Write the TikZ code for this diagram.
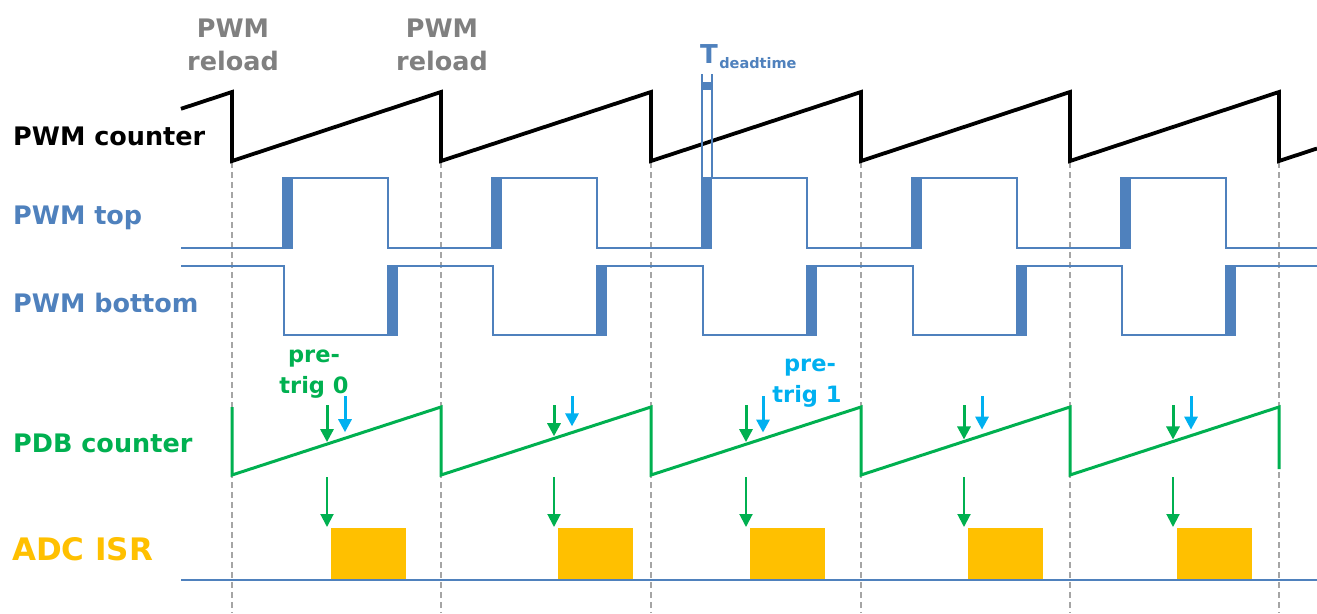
\documentclass[tikz,border=0pt]{standalone}
\usepackage{fontspec}
\setmainfont{DejaVu Sans}
\usetikzlibrary{arrows.meta}

\definecolor{pwmblue}{RGB}{79,129,189}
\definecolor{pdbgreen}{RGB}{0,176,80}
\definecolor{trigcyan}{RGB}{0,176,240}
\definecolor{isrorange}{RGB}{255,192,0}
\definecolor{reloadgray}{RGB}{128,128,128}
\definecolor{gridgray}{RGB}{165,165,165}

\tikzset{
  siglabel/.style={anchor=base west, inner sep=0pt, font=\fontsize{25.5}{30}\selectfont\bfseries},
  reloadlabel/.style={anchor=base, inner sep=0pt, text=reloadgray, font=\fontsize{25.5}{30}\selectfont\bfseries},
  triglabel/.style={anchor=base, inner sep=0pt, font=\fontsize{22.5}{26}\selectfont\bfseries},
  gridline/.style={gridgray, line width=1.3pt, dash pattern=on 6pt off 4pt},
  counterline/.style={black, line width=3.8pt, line join=miter},
  pwmline/.style={pwmblue, line width=2.4pt},
  pdbline/.style={pdbgreen, line width=3pt},
  trigarrow/.style={line width=3pt, -{Triangle[length=13pt,width=13pt]}},
  israrrow/.style={pdbgreen, line width=2pt, -{Triangle[length=13pt,width=13pt]}},
  isrbox/.style={fill=isrorange},
}

\begin{document}
\begin{tikzpicture}[x=1pt, y=-1pt]
\useasboundingbox (0,0) rectangle (1317,613);
\fill[white] (0,0) rectangle (1317,613);

% reload instants
\foreach \r in {232,441,651,861,1070,1279}
  \draw[gridline] (\r,162) -- (\r,613);

% PWM counter sawtooth
\draw[counterline] (181,108.8) -- (232,92) -- (232,161)
  \foreach \r in {441,651,861,1070,1279} { -- (\r,92) -- (\r,161) }
  -- (1317,148.5);

% PWM top
\draw[pwmline] (181,248)
  \foreach \r in {232,441,651,861,1070}
    { -- ({\r+51},248) -- ({\r+51},178) -- ({\r+156},178) -- ({\r+156},248) }
  -- (1317,248);
\foreach \r in {232,441,651,861,1070}
  \fill[pwmblue] ({\r+51},177) rectangle ({\r+61},249);

% PWM bottom
\draw[pwmline] (181,266)
  \foreach \r in {232,441,651,861,1070}
    { -- ({\r+52},266) -- ({\r+52},335) -- ({\r+156},335) -- ({\r+156},266) }
  -- (1317,266);
\foreach \r in {232,441,651,861,1070}
  \fill[pwmblue] ({\r+156},265) rectangle ({\r+166},336);

% dead time marker
\draw[pwmblue, line width=1.4pt] (702,74) -- (702,178) (712,74) -- (712,178);
\fill[pwmblue] (702,82) rectangle (712,90);
\node[anchor=base west, inner sep=0pt, text=pwmblue, font=\fontsize{26}{30}\selectfont\bfseries] (tdt) at (700,63) {T};
\node[anchor=base west, inner sep=0pt, text=pwmblue, font=\fontsize{14.5}{16}\selectfont\bfseries] (tdtsub) at ([xshift=1pt,yshift=-5pt]tdt.base east) {deadtime};

% PDB counter
\draw[pdbline] (232,407) -- (232,475)
  \foreach \r in {441,651,861,1070} { -- (\r,407) -- (\r,475) }
  -- (1279,407) -- (1279,469);

% pre-trigger arrows and ADC ISR
\foreach \r/\g/\c in {232/327/345, 441/554/572, 651/746/763, 861/964/982, 1070/1173/1191} {
  \draw[trigarrow, pdbgreen] (\g,405) -- (\g,{475-(\g-\r)*68/209-2});
  \draw[trigarrow, trigcyan] (\c,396) -- (\c,{475-(\c-\r)*68/209-6});
  \draw[israrrow] (\g,477) -- (\g,527);
  \fill[isrbox] ({\g+3.5},528) rectangle ({\g+78.5},580);
}
\draw[pwmblue, line width=1.4pt] (181,580) -- (1317,580);

% signal names
\node[siglabel, text=black] (lcnt) at (13,145) {PWM counter};
\node[siglabel, text=pwmblue] (ltop) at (13,224) {PWM top};
\node[siglabel, text=pwmblue] (lbot) at (13,312) {PWM bottom};
\node[siglabel, text=pdbgreen] (lpdb) at (13,452) {PDB counter};
\node[siglabel, text=isrorange, font=\fontsize{31}{36}\selectfont\bfseries] (lisr) at (12,560) {ADC ISR};

% reload annotations
\node[reloadlabel] (rl1a) at (233,37) {PWM};
\node[reloadlabel] (rl1b) at (233,70) {reload};
\node[reloadlabel] (rl2a) at (442,37) {PWM};
\node[reloadlabel] (rl2b) at (442,70) {reload};

% pre-trigger annotations
\node[triglabel, text=pdbgreen] (pt0a) at (314,362) {pre-};
\node[triglabel, text=pdbgreen] (pt0b) at (314,393) {trig 0};
\node[triglabel, text=trigcyan] (pt1a) at (810,371) {pre-};
\node[triglabel, text=trigcyan] (pt1b) at (807,402) {trig 1};
\end{tikzpicture}
\end{document}
